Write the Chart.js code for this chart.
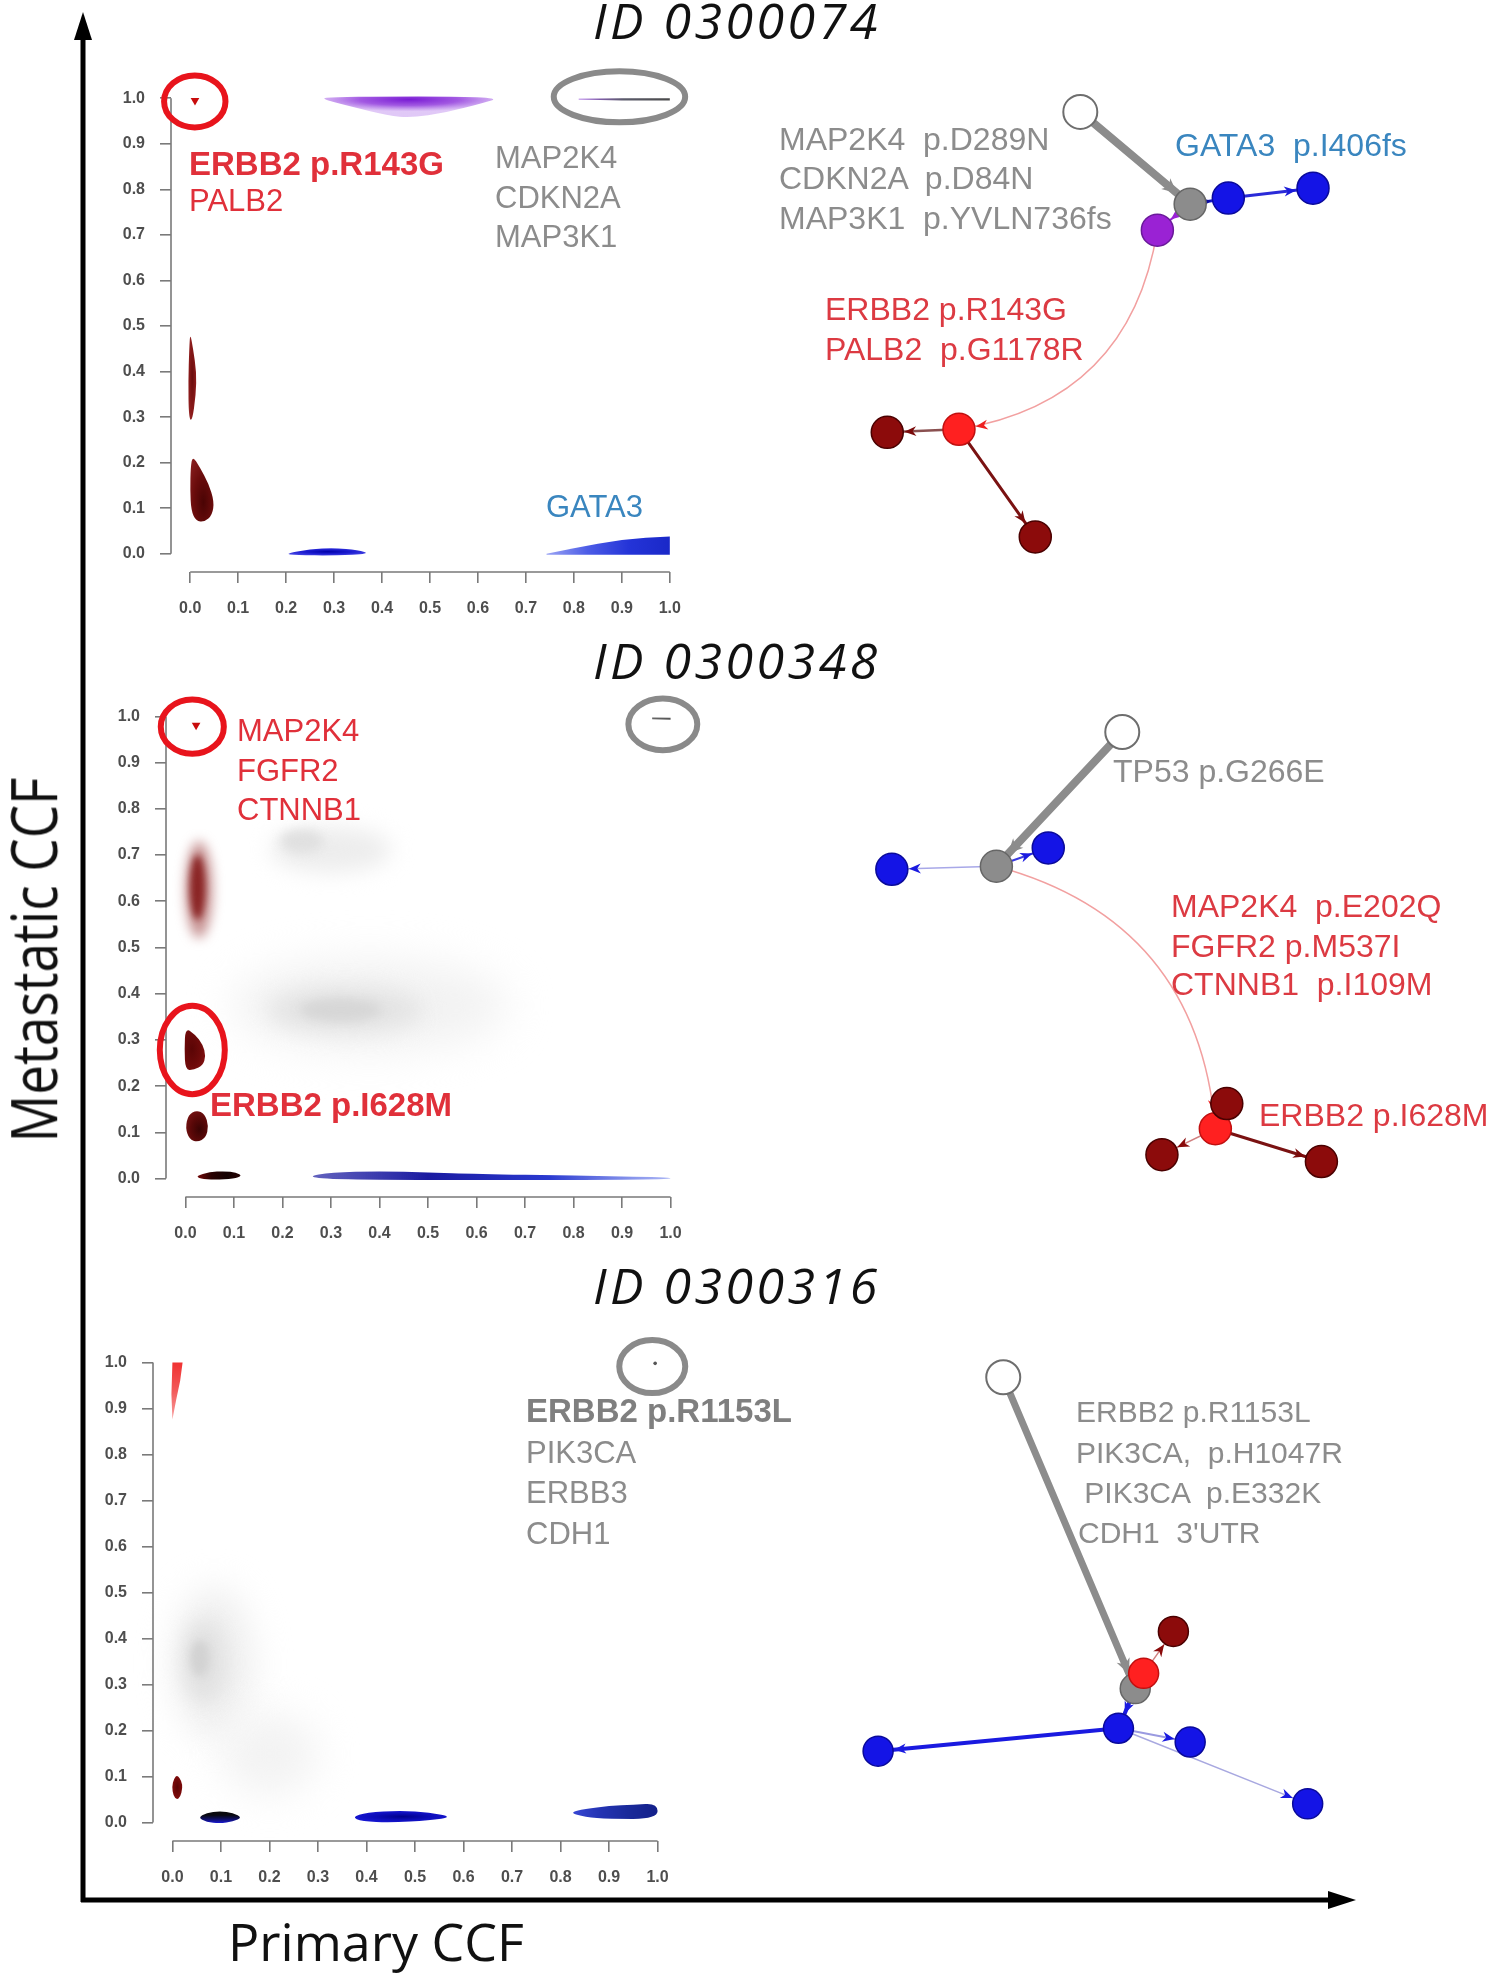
<!DOCTYPE html>
<html>
<head>
<meta charset="utf-8">
<script src="https://cdn.jsdelivr.net/npm/chart.js@4.4.1/dist/chart.umd.min.js"></script>
<style>
body { margin: 0; background: #fff; width: 1503px; height: 1986px; position: relative; overflow: hidden; font-family: "Liberation Sans", Arial, sans-serif; }
canvas { position: absolute; }
.t { position: absolute; white-space: pre; line-height: 1; font-size: 31px; }
.g { color: #8c8c8c; }
.r { color: #e0303a; }
.rt { color: #dc3a42; }
.b { color: #3a86bf; }
.bold { font-weight: bold; font-size: 33px; }
.tr { font-size: 32px; }
.id { position: absolute; font-family: "Open Sans", sans-serif; font-style: italic; font-size: 50px; letter-spacing: 3.5px; color: #111; line-height: 1; white-space: pre; }
.axl { position: absolute; font-family: "Open Sans", sans-serif; font-size: 52px; line-height: 1; color: #111; white-space: pre; }
</style>
</head>
<body>
<svg style="position:absolute;left:0;top:0" width="1503" height="1986">
  <line x1="83" y1="1902" x2="83" y2="36" stroke="#000" stroke-width="5"/>
  <polygon points="83,12 74,40 92,40" fill="#000"/>
  <line x1="81" y1="1900" x2="1332" y2="1900" stroke="#000" stroke-width="5"/>
  <polygon points="1356,1900 1328,1891 1328,1909" fill="#000"/>
</svg>

<canvas id="densA" width="648" height="592" style="left:71px;top:50px"></canvas>
<canvas id="densB" width="654" height="599" style="left:66px;top:668px"></canvas>
<canvas id="densC" width="654" height="597" style="left:53px;top:1314px"></canvas>
<canvas id="treeA" width="763" height="520" style="left:740px;top:60px"></canvas>
<canvas id="treeB" width="763" height="520" style="left:740px;top:690px"></canvas>
<canvas id="treeC" width="763" height="520" style="left:740px;top:1330px"></canvas>

<div class="id" style="left:593px;top:-5px">ID 0300074</div>
<div class="id" style="left:593px;top:635px">ID 0300348</div>
<div class="id" style="left:593px;top:1260px">ID 0300316</div>

<div class="axl" style="left:228px;top:1915px">Primary CCF</div>
<div class="axl" style="left:33px;top:960px;font-size:53px;transform:translate(-50%,-50%) rotate(-90deg) scaleY(1.2)">Metastatic CCF</div>

<!-- ID 0300074 -->
<div class="t r bold" style="left:189px;top:147px">ERBB2 p.R143G</div>
<div class="t r" style="left:189px;top:185px">PALB2</div>
<div class="t g" style="left:495px;top:142px">MAP2K4</div>
<div class="t g" style="left:495px;top:182px">CDKN2A</div>
<div class="t g" style="left:495px;top:221px">MAP3K1</div>
<div class="t b" style="left:546px;top:491px">GATA3</div>
<div class="t g tr" style="left:779px;top:123px">MAP2K4  p.D289N</div>
<div class="t g tr" style="left:779px;top:162px">CDKN2A  p.D84N</div>
<div class="t g tr" style="left:779px;top:202px">MAP3K1  p.YVLN736fs</div>
<div class="t b tr" style="left:1175px;top:129px">GATA3  p.I406fs</div>
<div class="t rt tr" style="left:825px;top:293px">ERBB2 p.R143G</div>
<div class="t rt tr" style="left:825px;top:333px">PALB2  p.G1178R</div>

<!-- ID 0300348 -->
<div class="t r" style="left:237px;top:715px">MAP2K4</div>
<div class="t r" style="left:237px;top:755px">FGFR2</div>
<div class="t r" style="left:237px;top:794px">CTNNB1</div>
<div class="t r bold" style="left:210px;top:1088px">ERBB2 p.I628M</div>
<div class="t g tr" style="left:1113px;top:755px">TP53 p.G266E</div>
<div class="t rt tr" style="left:1171px;top:890px">MAP2K4  p.E202Q</div>
<div class="t rt tr" style="left:1171px;top:930px">FGFR2 p.M537I</div>
<div class="t rt tr" style="left:1171px;top:968px">CTNNB1  p.I109M</div>
<div class="t rt tr" style="left:1259px;top:1099px">ERBB2 p.I628M</div>

<!-- ID 0300316 -->
<div class="t g bold" style="left:526px;top:1394px;color:#7f7f7f">ERBB2 p.R1153L</div>
<div class="t g" style="left:526px;top:1437px">PIK3CA</div>
<div class="t g" style="left:526px;top:1477px">ERBB3</div>
<div class="t g" style="left:526px;top:1518px">CDH1</div>
<div class="t g" style="left:1076px;top:1397px;font-size:30px">ERBB2 p.R1153L</div>
<div class="t g" style="left:1076px;top:1438px;font-size:30px">PIK3CA,  p.H1047R</div>
<div class="t g" style="left:1076px;top:1478px;font-size:30px"> PIK3CA  p.E332K</div>
<div class="t g" style="left:1078px;top:1518px;font-size:30px">CDH1  3'UTR</div>

<script>
Chart.defaults.font.family = '"Liberation Sans", Arial, sans-serif';
Chart.defaults.animation = false;

const ccfTicks = [0, 0.1, 0.2, 0.3, 0.4, 0.5, 0.6, 0.7, 0.8, 0.9, 1.0];

// ---------- ID 0300074 : density contours (x = primary CCF, y = metastatic CCF) ----------
const a_purpleX = [0.269, 0.333, 0.413, 0.46, 0.532, 0.612, 0.644, 0.55, 0.40, 0.30];
const a_purpleY = [1.0, 0.982, 0.962, 0.957, 0.968, 0.990, 1.0, 1.004, 1.004, 1.002];
const a_streakX = [0.81, 0.9, 1.0, 1.0, 0.9, 0.81];
const a_streakY = [0.999, 1.0, 1.0, 0.995, 0.995, 0.997];
const a_sliverX = [0.0, 0.006, 0.013, 0.012, 0.004, -0.003, -0.004, -0.002];
const a_sliverY = [0.485, 0.45, 0.40, 0.35, 0.29, 0.30, 0.38, 0.45];
const a_tearX = [0.005, 0.02, 0.038, 0.05, 0.046, 0.03, 0.012, 0.002, 0.0, 0.001];
const a_tearY = [0.215, 0.19, 0.155, 0.115, 0.085, 0.07, 0.072, 0.095, 0.14, 0.19];
const a_blueX = [0.197, 0.25, 0.30, 0.35, 0.376, 0.30, 0.22];
const a_blueY = [0.0, 0.010, 0.013, 0.008, 0.0, -0.004, -0.003];
const a_gataX = [0.743, 0.80, 0.85, 0.90, 0.95, 1.0, 1.0, 0.743];
const a_gataY = [0.0, 0.012, 0.022, 0.030, 0.035, 0.038, -0.002, -0.002];
const a_markX = [0.01];
const a_markY = [0.995];
const a_ringX = [0.0096, 0.895];
const a_ringY = [0.993, 1.003];
const a_ringRX = [0.064, 0.137];
const a_ringRY = [0.057, 0.056];

// ---------- ID 0300348 ----------
const b_softX = [0.30, 0.24, 0.38, 0.33, 0.32, 0.028, 0.025];
const b_softY = [0.712, 0.73, 0.375, 0.365, 0.365, 0.625, 0.63];
const b_softRX = [0.125, 0.045, 0.285, 0.16, 0.085, 0.028, 0.016];
const b_softRY = [0.05, 0.025, 0.10, 0.05, 0.025, 0.105, 0.07];
const b_dX = [0.0, 0.02, 0.036, 0.042, 0.036, 0.018, 0.0, -0.002];
const b_dY = [0.326, 0.312, 0.29, 0.265, 0.245, 0.236, 0.234, 0.28];
const b_ovalX = [0.023, 0.04, 0.048, 0.042, 0.025, 0.008, 0.0, 0.006];
const b_ovalY = [0.148, 0.14, 0.113, 0.088, 0.079, 0.085, 0.11, 0.138];
const b_darkX = [0.022, 0.05, 0.08, 0.105, 0.117, 0.1, 0.06, 0.03];
const b_darkY = [0.006, 0.014, 0.016, 0.013, 0.006, 0.0, -0.003, 0.0];
const b_blueX = [0.25, 0.30, 0.40, 0.50, 0.60, 0.80, 1.0, 1.0, 0.80, 0.50, 0.30];
const b_blueY = [0.004, 0.013, 0.016, 0.013, 0.010, 0.006, 0.003, -0.002, -0.003, -0.003, -0.002];
const b_streakX = [0.962, 1.0, 1.0, 0.962];
const b_streakY = [0.998, 0.997, 0.993, 0.994];
const b_markX = [0.022];
const b_markY = [0.981];
const b_ringX = [0.0142, 0.984, 0.0142];
const b_ringY = [0.978, 0.983, 0.278];
const b_ringRX = [0.065, 0.071, 0.067];
const b_ringRY = [0.0587, 0.056, 0.0957];

// ---------- ID 0300316 ----------
const c_softX = [0.085, 0.065, 0.057, 0.2];
const c_softY = [0.345, 0.35, 0.357, 0.15];
const c_softRX = [0.08, 0.045, 0.02, 0.1];
const c_softRY = [0.165, 0.09, 0.04, 0.09];
const c_wedgeX = [0.0, 0.021, 0.016, 0.008, 0.0, -0.002];
const c_wedgeY = [1.0, 1.0, 0.96, 0.92, 0.876, 0.93];
const c_ovalX = [0.01, 0.019, 0.021, 0.016, 0.009, 0.002, -0.001, 0.003];
const c_ovalY = [0.104, 0.09, 0.075, 0.055, 0.05, 0.058, 0.078, 0.095];
const c_blackX = [0.053, 0.07, 0.098, 0.125, 0.144, 0.125, 0.098, 0.07];
const c_blackY = [0.011, 0.021, 0.025, 0.021, 0.011, 0.002, -0.002, 0.001];
const c_blue1X = [0.37, 0.40, 0.47, 0.53, 0.578, 0.53, 0.45, 0.39];
const c_blue1Y = [0.012, 0.022, 0.026, 0.022, 0.012, 0.005, 0.0, 0.003];
const c_blue2X = [0.818, 0.85, 0.90, 0.95, 1.0, 1.0, 0.90, 0.85];
const c_blue2Y = [0.022, 0.030, 0.036, 0.039, 0.042, 0.008, 0.008, 0.012];
const c_markX = [0.995];
const c_markY = [0.998];
const c_ringX = [0.989];
const c_ringY = [0.991];
const c_ringRX = [0.068];
const c_ringRY = [0.0576];

// ---------- clone trees (layout units) ----------
// ID 0300074: white, purple, grey, blue, blue, red, darkred, darkred
const a_nodeX = [44.6, 54.7, 59.0, 64.0, 75.1, 28.7, 19.3, 38.7];
const a_nodeY = [6.8, 22.3, 18.9, 18.1, 16.8, 48.4, 48.8, 62.5];
const a_edgeFrom = [0, 2, 3, 2, 1, 5, 5];
const a_edgeTo = [2, 3, 4, 1, 5, 6, 7];
const a_edgeBend = [0, 0, 0, 0, 0.36, 0, 0];
// ID 0300348: white, blue, blue, grey, darkred, darkred, red, darkred
const b_nodeX = [50.1, 19.9, 40.4, 33.6, 55.3, 76.2, 62.3, 63.8];
const b_nodeY = [5.5, 23.5, 20.7, 23.1, 60.9, 61.8, 57.5, 54.2];
const b_edgeFrom = [0, 3, 3, 3, 6, 6, 6];
const b_edgeTo = [3, 1, 2, 6, 7, 4, 5];
const b_edgeBend = [0, 0, 0, 0.35, 0, 0, 0];
// ID 0300316: white, blue, blue, blue, blue, grey, red, darkred
const c_nodeX = [34.5, 18.1, 74.4, 59.0, 49.6, 51.8, 52.9, 56.8];
const c_nodeY = [6.2, 55.2, 62.1, 54.0, 52.2, 47.0, 45.0, 39.5];
const c_edgeFrom = [0, 5, 4, 4, 4, 6];
const c_edgeTo = [5, 4, 1, 3, 2, 7];
const c_edgeBend = [0, 0, 0, 0, 0, 0];

// ---------- styles ----------
const RED = '#e8141c', GREY = '#8a8a8a';
const WHITE = '#ffffff', GRAYN = '#8c8c8c', BLUE = '#1414e6', PURP = '#9a22d4', REDN = '#ff2020', DARK = '#8c0b0b';
const lineOf = { '#ffffff': '#6e6e6e', '#8c8c8c': '#666666', '#1414e6': '#0a0a9a', '#9a22d4': '#6a1a9a', '#ff2020': '#c01010', '#8c0b0b': '#4a0000' };

function zip(xs, ys) { return xs.map((v, i) => [v, ys[i]]); }

function tracePath(ctx, pts, sharp) {
  ctx.beginPath();
  if (sharp) {
    pts.forEach((p, i) => i ? ctx.lineTo(p[0], p[1]) : ctx.moveTo(p[0], p[1]));
    ctx.closePath();
    return;
  }
  const n = pts.length;
  const mid = (a, b) => [(a[0] + b[0]) / 2, (a[1] + b[1]) / 2];
  const m0 = mid(pts[n - 1], pts[0]);
  ctx.moveTo(m0[0], m0[1]);
  for (let i = 0; i < n; i++) {
    const p = pts[i], m = mid(p, pts[(i + 1) % n]);
    ctx.quadraticCurveTo(p[0], p[1], m[0], m[1]);
  }
  ctx.closePath();
}

function paintShape(ctx, pts, st) {
  const xs = pts.map(p => p[0]), ys = pts.map(p => p[1]);
  const x0 = Math.min(...xs), x1 = Math.max(...xs), y0 = Math.min(...ys), y1 = Math.max(...ys);
  const w = Math.max(x1 - x0, 1), h = Math.max(y1 - y0, 1);
  tracePath(ctx, pts, st.sharp);
  ctx.save();
  let g;
  if (st.kind === 'r') {
    ctx.translate(x0 + w * (st.fx ?? 0.5), y0 + h * (st.fy ?? 0.5));
    ctx.scale(1, h / w);
    g = ctx.createRadialGradient(0, 0, 0, 0, 0, w * (st.rr ?? 0.6));
  } else if (st.kind === 'h') {
    g = ctx.createLinearGradient(x0, 0, x1, 0);
  } else {
    g = ctx.createLinearGradient(0, y0, 0, y1);
  }
  st.stops.forEach((c, i) => g.addColorStop(i / (st.stops.length - 1), c));
  ctx.fillStyle = g;
  ctx.fill();
  ctx.restore();
}

function axis(which) {
  return {
    type: 'linear', min: -0.04, max: 1.04,
    afterBuildTicks: s => { s.ticks = ccfTicks.map(v => ({ value: v })); },
    afterFit: s => { if (which === 'x') s.height = 70; else s.width = 100; },
    grid: { drawOnChartArea: false, drawTicks: true, tickLength: 11, color: '#7a7a7a', lineWidth: 1.6 },
    border: { display: false },
    ticks: {
      autoSkip: false, maxRotation: 0, padding: which === 'x' ? 16 : 15,
      color: '#4e4e4e', font: { size: 16, weight: 'bold' },
      callback: v => Number(v).toFixed(1)
    }
  };
}

function densityChart(id, shapes, soft, rings, marks) {
  const layers = {
    id: 'layers',
    beforeDatasetsDraw(chart) {
      const { ctx, scales: { x, y } } = chart;
      soft.forEach(b => {
        const cx = x.getPixelForValue(b.x), cy = y.getPixelForValue(b.y);
        const rx = Math.abs(x.getPixelForValue(b.x + b.rx) - cx);
        const ry = Math.abs(y.getPixelForValue(b.y + b.ry) - cy);
        ctx.save();
        ctx.filter = `blur(${Math.max(3, Math.min(rx, ry) * 0.45).toFixed(1)}px)`;
        ctx.fillStyle = b.shade;
        ctx.beginPath();
        ctx.ellipse(cx, cy, rx, ry, 0, 0, Math.PI * 2);
        ctx.fill();
        ctx.restore();
      });
      shapes.forEach(s => {
        const pts = s.pts.map(p => [x.getPixelForValue(p[0]), y.getPixelForValue(p[1])]);
        paintShape(ctx, pts, s.style);
      });
    },
    afterDatasetsDraw(chart) {
      const { ctx, chartArea: a, scales: { x, y } } = chart;
      ctx.save();
      ctx.strokeStyle = '#7a7a7a';
      ctx.lineWidth = 1.6;
      ctx.beginPath();
      ctx.moveTo(a.left, y.getPixelForValue(0)); ctx.lineTo(a.left, y.getPixelForValue(1));
      ctx.moveTo(x.getPixelForValue(0), a.bottom); ctx.lineTo(x.getPixelForValue(1), a.bottom);
      ctx.stroke();
      rings.forEach(r => {
        const cx = x.getPixelForValue(r.x), cy = y.getPixelForValue(r.y);
        const rx = Math.abs(x.getPixelForValue(r.x + r.rx) - cx);
        const ry = Math.abs(y.getPixelForValue(r.y + r.ry) - cy);
        ctx.strokeStyle = r.color;
        ctx.lineWidth = 6;
        ctx.beginPath();
        ctx.ellipse(cx, cy, rx, ry, 0, 0, Math.PI * 2);
        ctx.stroke();
      });
      ctx.restore();
    }
  };
  return new Chart(document.getElementById(id), {
    type: 'scatter',
    data: {
      datasets: [{
        data: marks.x.map((v, i) => ({ x: v, y: marks.y[i] })),
        pointStyle: marks.style, rotation: 180, pointRadius: marks.size,
        pointBackgroundColor: marks.color, pointBorderWidth: 0, clip: false
      }]
    },
    options: {
      responsive: false, events: [],
      layout: { padding: { top: 30, right: 30, left: 0, bottom: 0 } },
      plugins: { legend: { display: false }, tooltip: { enabled: false } },
      scales: { x: axis('x'), y: axis('y') }
    },
    plugins: [layers]
  });
}

function softList(xs, ys, rxs, rys, shades) {
  return xs.map((v, i) => ({ x: v, y: ys[i], rx: rxs[i], ry: rys[i], shade: shades[i] }));
}
function ringList(xs, ys, rxs, rys, colors) {
  return xs.map((v, i) => ({ x: v, y: ys[i], rx: rxs[i], ry: rys[i], color: colors[i] }));
}

densityChart('densA', [
  { pts: zip(a_purpleX, a_purpleY), style: { kind: 'r', fx: 0.5, fy: 0.15, rr: 0.55, stops: ['#7a1cd4', '#a259e2', 'rgba(214,182,244,0.75)'] } },
  { pts: zip(a_streakX, a_streakY), style: { kind: 'h', sharp: true, stops: ['#a060e0', '#5a5a6a', '#4a4a4a'] } },
  { pts: zip(a_sliverX, a_sliverY), style: { kind: 'r', rr: 0.8, stops: ['#6a0c0c', '#8a1a1a', '#a43838'] } },
  { pts: zip(a_tearX, a_tearY), style: { kind: 'r', fx: 0.55, fy: 0.7, rr: 0.8, stops: ['#4a0404', '#6a0c0c', '#8a2020'] } },
  { pts: zip(a_blueX, a_blueY), style: { kind: 'r', rr: 0.55, stops: ['#0000a8', '#1c1cd0', '#4a4ae6'] } },
  { pts: zip(a_gataX, a_gataY), style: { kind: 'h', sharp: true, stops: ['#9aa4f4', '#4c5ce6', '#2434d8', '#1a28c8'] } }
], [], ringList(a_ringX, a_ringY, a_ringRX, a_ringRY, [RED, GREY]),
  { x: a_markX, y: a_markY, style: ['triangle'], size: [5], color: ['#c80c0c'] });

densityChart('densB', [
  { pts: zip(b_dX, b_dY), style: { kind: 'r', fx: 0.35, rr: 0.8, stops: ['#5a0505', '#6e0a0a', '#8a1616'] } },
  { pts: zip(b_ovalX, b_ovalY), style: { kind: 'r', fx: 0.6, fy: 0.6, rr: 0.7, stops: ['#3a0303', '#5a0808', '#7a1414'] } },
  { pts: zip(b_darkX, b_darkY), style: { kind: 'h', stops: ['#7a0a0a', '#2a0202', '#140000', '#2a0505'] } },
  { pts: zip(b_blueX, b_blueY), style: { kind: 'h', stops: ['rgba(50,50,170,0.75)', '#1a1aa0', '#2a3ad0', 'rgba(100,120,235,0.55)'] } },
  { pts: zip(b_streakX, b_streakY), style: { kind: 'h', sharp: true, stops: ['#666', '#555'] } }
], softList(b_softX, b_softY, b_softRX, b_softRY,
  ['#ededed', '#e0e0e0', '#f2f2f2', '#e4e4e4', '#d6d6d6', 'rgba(185,120,120,0.8)', '#8a2424']),
  ringList(b_ringX, b_ringY, b_ringRX, b_ringRY, [RED, GREY, RED]),
  { x: b_markX, y: b_markY, style: ['triangle'], size: [5], color: ['#c80c0c'] });

densityChart('densC', [
  { pts: zip(c_wedgeX, c_wedgeY), style: { kind: 'v', sharp: true, stops: ['#f03232', '#f25a5a', 'rgba(246,140,140,0.85)'] } },
  { pts: zip(c_ovalX, c_ovalY), style: { kind: 'r', rr: 0.8, stops: ['#5a0303', '#7a0a0a', '#9a1a1a'] } },
  { pts: zip(c_blackX, c_blackY), style: { kind: 'v', stops: ['#0a0a0a', '#0a0a12', '#10106a', '#1a1ae0'] } },
  { pts: zip(c_blue1X, c_blue1Y), style: { kind: 'r', rr: 0.55, stops: ['#00008a', '#0c0cb8', '#1a1ad8'] } },
  { pts: zip(c_blue2X, c_blue2Y), style: { kind: 'h', stops: ['#3a4ad8', '#2434b4', '#1a2a9a', '#13208a'] } }
], softList(c_softX, c_softY, c_softRX, c_softRY, ['#eeeeee', '#e2e2e2', '#d2d2d2', '#f3f3f3']),
  ringList(c_ringX, c_ringY, c_ringRX, c_ringRY, [GREY]),
  { x: c_markX, y: c_markY, style: ['circle'], size: [1.8], color: ['#555555'] });

function arrowHead(ctx, x, y, ang, len, wid, color) {
  ctx.save();
  ctx.translate(x, y);
  ctx.rotate(ang);
  ctx.beginPath();
  ctx.moveTo(0, 0);
  ctx.lineTo(-len, wid / 2);
  ctx.lineTo(-len * 0.7, 0);
  ctx.lineTo(-len, -wid / 2);
  ctx.closePath();
  ctx.fillStyle = color;
  ctx.fill();
  ctx.restore();
}

function treeChart(id, xs, ys, fills, radii, from, to, bend, eColor, eWidth, aColor) {
  const edges = {
    id: 'edges',
    beforeDatasetsDraw(chart) {
      const ctx = chart.ctx, pts = chart.getDatasetMeta(0).data;
      from.forEach((f, k) => {
        const p = pts[f], q = pts[to[k]], r = radii[to[k]];
        const dx = q.x - p.x, dy = q.y - p.y;
        const cx = (p.x + q.x) / 2 + dy * bend[k], cy = (p.y + q.y) / 2 - dx * bend[k];
        ctx.save();
        ctx.strokeStyle = eColor[k];
        ctx.lineWidth = eWidth[k];
        ctx.lineCap = 'round';
        ctx.beginPath();
        ctx.moveTo(p.x, p.y);
        if (bend[k]) ctx.quadraticCurveTo(cx, cy, q.x, q.y); else ctx.lineTo(q.x, q.y);
        ctx.stroke();
        ctx.restore();
        const tx = bend[k] ? q.x - cx : dx, ty = bend[k] ? q.y - cy : dy;
        const tl = Math.hypot(tx, ty), ux = tx / tl, uy = ty / tl;
        const big = eWidth[k] > 5;
        arrowHead(ctx, q.x - ux * (r + 1), q.y - uy * (r + 1), Math.atan2(uy, ux),
          big ? 15 : 12, big ? 14 : 10, aColor[k]);
      });
    }
  };
  return new Chart(document.getElementById(id), {
    type: 'scatter',
    data: {
      datasets: [{
        data: xs.map((v, i) => ({ x: v, y: ys[i] })),
        pointRadius: radii,
        pointBackgroundColor: fills,
        pointBorderColor: fills.map(c => lineOf[c]),
        pointBorderWidth: fills.map(c => c === WHITE ? 2 : 1.5),
        clip: false
      }]
    },
    options: {
      responsive: false, events: [],
      layout: { padding: 0, autoPadding: false },
      plugins: { legend: { display: false }, tooltip: { enabled: false } },
      scales: {
        x: { type: 'linear', min: 0, max: 100, display: false },
        y: { type: 'linear', min: 0, max: 68.15, reverse: true, display: false }
      }
    },
    plugins: [edges]
  });
}

treeChart('treeA', a_nodeX, a_nodeY,
  [WHITE, PURP, GRAYN, BLUE, BLUE, REDN, DARK, DARK],
  [17, 16, 16, 16, 16, 16, 16, 16],
  a_edgeFrom, a_edgeTo, a_edgeBend,
  ['#8c8c8c', '#1a1ad8', '#2a2ad8', '#9a22d4', '#f2a0a0', '#8a5050', '#7a1212'],
  [8, 3, 3, 2, 1.5, 2.5, 3],
  ['#8c8c8c', '#0a0aa0', '#1a1ad8', '#9a22d4', '#ee2020', '#7a0a0a', '#7a0a0a']);

treeChart('treeB', b_nodeX, b_nodeY,
  [WHITE, BLUE, BLUE, GRAYN, DARK, DARK, REDN, DARK],
  [17, 16, 16, 16, 16, 16, 16, 16],
  b_edgeFrom, b_edgeTo, b_edgeBend,
  ['#8c8c8c', '#a8a8e8', '#3a3ae0', '#f2a0a0', '#c05050', '#d08080', '#7a1212'],
  [8, 1.5, 2, 1.5, 1.5, 1.5, 3],
  ['#8c8c8c', '#1a1ae0', '#1a1ae0', '#ee2020', '#d01818', '#8a0a0a', '#7a0a0a']);

treeChart('treeC', c_nodeX, c_nodeY,
  [WHITE, BLUE, BLUE, BLUE, BLUE, GRAYN, REDN, DARK],
  [17, 15, 15, 15, 15, 15, 15, 15],
  c_edgeFrom, c_edgeTo, c_edgeBend,
  ['#8c8c8c', '#1a1ae0', '#1a1ae0', '#9a9ae0', '#a8a8e0', '#d08080'],
  [7, 4, 4, 2, 1.5, 1.5],
  ['#8c8c8c', '#1a1ae0', '#1a1ae0', '#1a1ae0', '#1a1ae0', '#8a0a0a']);
</script>
</body>
</html>
